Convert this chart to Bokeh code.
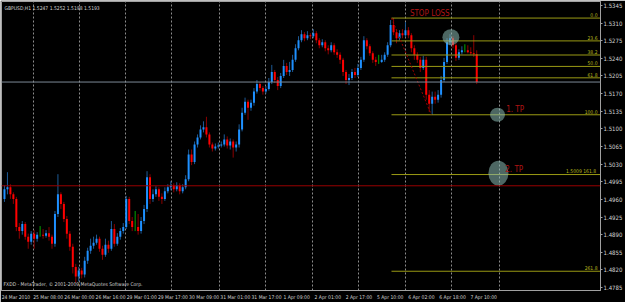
from bokeh.plotting import figure
from bokeh.models import (Range1d, FixedTicker, CustomJSTickFormatter, PrintfTickFormatter,
                          Label, Span, ColumnDataSource)
from bokeh.embed import file_html
from bokeh.resources import INLINE
from bokeh.core.properties import value

# ---------------- data ----------------
symbol_title = "GBPUSD,H1  1.5247 1.5252 1.5198 1.5193"
copyright_text = "FXDD - MetaTrader, \u00a9 2001-2009 MetaQuotes Software Corp."

PIP = 10000.0
first_open = 14961
closes = [14980, 14984, 14970, 14961, 14905, 14897, 14911, 14886, 14876, 14892,
          14882, 14890, 14890, 14888, 14893, 14886, 14872, 14931, 14970, 14951,
          14921, 14892, 14866, 14826, 14807, 14819, 14811, 14838, 14858, 14868,
          14874, 14882, 14862, 14850, 14870, 14862, 14901, 14872, 14886, 14897,
          14905, 14961, 14917, 14905, 14905, 14897, 14917, 14941, 15004, 14961,
          14970, 14980, 14965, 14961, 14976, 14984, 14988, 14980, 14988, 14976,
          14984, 15000, 15049, 15034, 15069, 15083, 15099, 15103, 15089, 15069,
          15061, 15065, 15067, 15069, 15079, 15067, 15075, 15063, 15069, 15099,
          15132, 15154, 15142, 15152, 15174, 15189, 15181, 15174, 15179, 15193,
          15213, 15197, 15185, 15205, 15225, 15213, 15217, 15237, 15260, 15276,
          15288, 15280, 15286, 15284, 15290, 15276, 15266, 15272, 15260, 15256,
          15266, 15252, 15247, 15237, 15213, 15197, 15201, 15213, 15207, 15221,
          15237, 15276, 15264, 15250, 15237, 15233, 15233, 15237, 15247, 15266,
          15306, 15292, 15280, 15290, 15286, 15296, 15286, 15260, 15247, 15237,
          15221, 15237, 15168, 15150, 15164, 15158, 15168, 15197, 15233, 15272,
          15280, 15266, 15241, 15252, 15256, 15256, 15252, 15250, 15248, 15193]
highs = [14988, 15014, 14990, 14974, 14965, 14913, 14917, 14915, 14892, 14897,
         14899, 14895, 14907, 14901, 14899, 14905, 14890, 14937, 15010, 14974,
         14955, 14927, 14897, 14872, 14832, 14826, 14824, 14846, 14864, 14882,
         14886, 14890, 14886, 14868, 14882, 14878, 14917, 14911, 14893, 14903,
         14913, 14967, 14965, 14925, 14937, 14931, 14925, 14949, 15016, 15010,
         14980, 14986, 14984, 14972, 14984, 14990, 14996, 14992, 14994, 14992,
         14990, 15008, 15059, 15059, 15075, 15089, 15107, 15115, 15124, 15093,
         15073, 15071, 15073, 15075, 15089, 15085, 15081, 15079, 15075, 15109,
         15142, 15162, 15158, 15158, 15181, 15197, 15193, 15185, 15185, 15201,
         15227, 15217, 15203, 15211, 15237, 15231, 15233, 15247, 15268, 15284,
         15296, 15292, 15294, 15290, 15298, 15294, 15280, 15278, 15276, 15266,
         15272, 15270, 15258, 15252, 15241, 15217, 15209, 15219, 15221, 15229,
         15243, 15284, 15280, 15268, 15254, 15243, 15247, 15247, 15252, 15272,
         15316, 15320, 15298, 15296, 15298, 15312, 15302, 15290, 15266, 15252,
         15243, 15245, 15243, 15177, 15174, 15174, 15177, 15205, 15241, 15280,
         15288, 15284, 15270, 15258, 15264, 15268, 15266, 15262, 15286, 15256]
lows = [14955, 14970, 14961, 14951, 14897, 14882, 14890, 14880, 14862, 14870,
        14862, 14876, 14886, 14882, 14884, 14878, 14862, 14866, 14925, 14941,
        14915, 14882, 14858, 14813, 14795, 14797, 14803, 14805, 14832, 14852,
        14862, 14870, 14856, 14840, 14846, 14854, 14858, 14866, 14868, 14880,
        14892, 14901, 14911, 14897, 14897, 14890, 14892, 14911, 14935, 14951,
        14955, 14965, 14957, 14951, 14957, 14972, 14978, 14974, 14976, 14970,
        14972, 14980, 14996, 15028, 15030, 15063, 15079, 15093, 15083, 15063,
        15055, 15057, 15061, 15063, 15065, 15061, 15059, 15043, 15055, 15063,
        15095, 15128, 15118, 15136, 15146, 15170, 15176, 15168, 15170, 15176,
        15189, 15191, 15177, 15181, 15201, 15207, 15205, 15213, 15233, 15256,
        15272, 15274, 15276, 15278, 15280, 15270, 15260, 15262, 15254, 15248,
        15252, 15247, 15241, 15229, 15205, 15189, 15187, 15197, 15201, 15203,
        15217, 15233, 15258, 15245, 15231, 15225, 15229, 15231, 15233, 15243,
        15262, 15286, 15270, 15276, 15280, 15282, 15280, 15252, 15237, 15231,
        15213, 15217, 15158, 15134, 15128, 15150, 15152, 15162, 15193, 15229,
        15266, 15260, 15235, 15237, 15248, 15252, 15250, 15247, 15243, 15189]

x_labels = ["24 Mar 2010", "25 Mar 08:00", "26 Mar 00:00", "26 Mar 16:00",
            "29 Mar 01:00", "29 Mar 17:00", "30 Mar 09:00", "31 Mar 01:00",
            "31 Mar 17:00", "1 Apr 09:00", "2 Apr 01:00", "2 Apr 17:00",
            "5 Apr 10:00", "6 Apr 02:00", "6 Apr 18:00", "7 Apr 10:00"]
x_label_bars = [-0.5, 10, 20.5, 31, 41.5, 52, 62.5, 73, 83.5, 94, 104.5, 115, 125.5, 136, 146.5, 157]
grid_bars = [9.67, 25.33, 40.67, 56.33, 72.33, 88.0, 103.67, 119.33, 135.0, 150.67, 166.67]

price_ticks = [1.5345, 1.5310, 1.5275, 1.5240, 1.5205, 1.5170, 1.5135, 1.5100, 1.5065,
               1.5030, 1.4995, 1.4960, 1.4925, 1.4890, 1.4855, 1.4820, 1.4785]

bid_price = 1.5193
red_line_price = 1.4987

fib_high = 1.5320
fib_low = 1.5128
fib_levels = [0.0, 23.6, 38.2, 50.0, 61.8, 100.0, 161.8, 261.8]
fib_texts = ["0.0", "23.6", "38.2", "50.0", "61.8", "100.0", "1.5009  161.8", "261.8"]
fib_start_bar = 130.3
fib_end_bar = 143.7

# ---------------- derived ----------------
n = len(closes)
assert len(highs) == n and len(lows) == n
opens = [first_open] + closes[:-1]
idx = list(range(n))
o = [v / PIP for v in opens]
c = [v / PIP for v in closes]
h = [v / PIP for v in highs]
l = [v / PIP for v in lows]

UP_BODY, DN_BODY = "#1e90ff", "#ff0000"
UP_WICK, DN_WICK, DOJI = "#1d5a96", "#8b0000", "#00a800"
body_col, wick_col = [], []
for oo, cc in zip(opens, closes):
    if cc > oo:
        body_col.append(UP_BODY); wick_col.append(UP_WICK)
    elif cc < oo:
        body_col.append(DN_BODY); wick_col.append(DN_WICK)
    else:
        body_col.append(DOJI); wick_col.append(DOJI)

src = ColumnDataSource(dict(x=idx, o=o, c=c, h=h, l=l,
                            top=[max(a, b) for a, b in zip(o, c)],
                            bot=[min(a, b) for a, b in zip(o, c)],
                            bc=body_col, wc=wick_col))

FONT = "'Liberation Sans Narrow', 'DejaVu Sans Condensed', 'Liberation Sans', sans-serif"
TXT = "#d4d4d4"
FIB = "#9a9a14"
FIB_TXT = "#b8b81e"
NOTE = "#b01414"

X0, X1 = -1.0, 200.67
Y0, Y1 = 1.47791, 1.53529

p = figure(width=625, height=302, output_backend="svg", toolbar_location=None,
           x_range=Range1d(X0, X1), y_range=Range1d(Y0, Y1),
           y_axis_location="right", x_axis_location="below",
           min_border_left=1, min_border_top=1, min_border_right=19, min_border_bottom=10)
p.background_fill_color = "#000000"
p.border_fill_color = "#000000"
p.outline_line_color = "#a0a0a0"

# axes: x labels are drawn centred on their ticks, so each tick is put at the
# middle of the label that in the original starts at the label's bar
CHAR_BARS = 0.36
x_tick_pos = [b + 0.4 + len(s) * CHAR_BARS for b, s in zip(x_label_bars, x_labels)]
p.yaxis.ticker = FixedTicker(ticks=price_ticks)
p.yaxis.formatter = PrintfTickFormatter(format="%.4f")
p.xaxis.ticker = FixedTicker(ticks=x_tick_pos)
p.xaxis.formatter = CustomJSTickFormatter(args=dict(labels=x_labels),
                                          code="return labels[index] || '';")
for ax in (p.xaxis[0], p.yaxis[0]):
    ax.axis_line_color = "#a0a0a0"
    ax.major_tick_line_color = "#a0a0a0"
    ax.major_tick_out = 2
    ax.major_tick_in = 0
    ax.minor_tick_line_color = None
    ax.major_label_text_font = FONT
    ax.major_label_text_font_size = "6px"
    ax.major_label_text_color = TXT
    ax.major_label_standoff = 1
p.xaxis.major_tick_line_color = None
p.xaxis.major_label_text_font_size = "5px"

# grid
p.ygrid.visible = False
p.xgrid.ticker = FixedTicker(ticks=grid_bars)
p.xgrid.grid_line_color = "#8c8c8c"
p.xgrid.grid_line_dash = "2 2"
p.xgrid.grid_line_width = 1

# horizontal price lines
p.add_layout(Span(location=red_line_price, dimension="width", line_color="#9a0000", line_width=1))
p.add_layout(Span(location=bid_price, dimension="width", line_color="#7d8a96", line_width=1))

# candles
p.segment(x0="x", y0="l", x1="x", y1="h", line_color="wc", line_width=1, source=src)
p.vbar(x="x", bottom="bot", top="top", width=0.67, fill_color="bc", line_color=None, source=src)

# fibonacci
fib_prices = [fib_high - (fib_high - fib_low) * lv / 100.0 for lv in fib_levels]
p.segment(x0=[fib_start_bar] * len(fib_prices), x1=[X1] * len(fib_prices),
          y0=fib_prices, y1=fib_prices, line_color=FIB, line_width=1)
p.text(x=[X1] * len(fib_prices), y=fib_prices, text=fib_texts, x_offset=-3, y_offset=-1,
       text_align="right", text_baseline="bottom", text_font=value(FONT),
       text_font_size="5px", text_color=FIB_TXT)
p.segment(x0=[fib_start_bar], y0=[fib_high], x1=[fib_end_bar], y1=[fib_low],
          line_color="#a00000", line_dash="2 2", line_width=1)

# trade notes: circles + texts
p.ellipse(x=[150.3], y=[1.5282], width=17, height=16, width_units="screen",
          height_units="screen", fill_color="#8cbcb4", fill_alpha=0.55, line_color=None)
p.ellipse(x=[166.0], y=[fib_prices[5]], width=15, height=14, width_units="screen",
          height_units="screen", fill_color="#8cbcb4", fill_alpha=0.55, line_color=None)
p.ellipse(x=[166.3], y=[1.5012], width=20, height=25, width_units="screen",
          height_units="screen", fill_color="#8cbcb4", fill_alpha=0.55, line_color=None)

for txt, bx, py in [("STOP LOSS", 136.5, 1.5329), ("1. TP", 168.9, 1.5138), ("2. TP", 168.6, 1.5020)]:
    p.add_layout(Label(x=bx, y=py, text=txt, text_font=FONT, text_font_size="8px",
                       text_color=NOTE, text_baseline="middle", text_align="left"))

# header / footer texts
p.add_layout(Label(x=X0, y=Y1, x_offset=3, y_offset=-3, text=symbol_title, text_font=FONT,
                   text_font_size="5px", text_color=TXT, text_baseline="top"))
p.add_layout(Label(x=X0, y=Y0, x_offset=2, y_offset=4, text=copyright_text, text_font=FONT,
                   text_font_size="5px", text_color=TXT, text_baseline="bottom"))

# price boxes on the axis
p.add_layout(Label(x=X1, y=bid_price, x_offset=1, text="1.5193", text_font=FONT,
                   text_font_size="6px", text_color="#000000", text_baseline="middle",
                   background_fill_color="#c8c8c8", padding=1))
p.add_layout(Label(x=X1, y=red_line_price, x_offset=1, text="1.4987", text_font=FONT,
                   text_font_size="6px", text_color="#ffffff", text_baseline="middle",
                   background_fill_color="#d00000", padding=1))

open("out.html", "w").write(file_html(p, INLINE))
